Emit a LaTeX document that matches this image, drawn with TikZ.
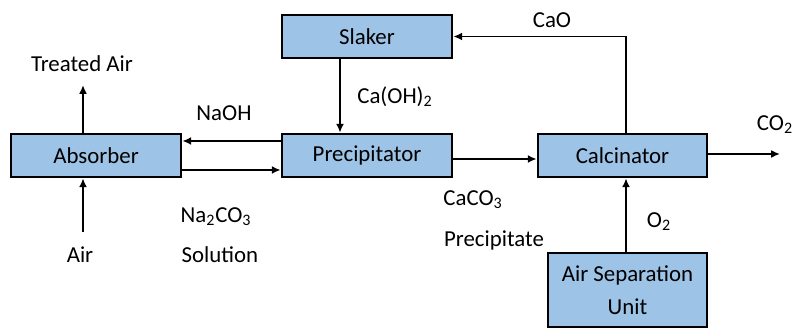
\documentclass[tikz,border=0pt]{standalone}
\usepackage{fontspec}
\setmainfont{Carlito}
\usetikzlibrary{arrows.meta}
\definecolor{boxblue}{HTML}{9DC3E6}
\tikzset{
  unit/.style={draw,line width=1.5pt,fill=boxblue,minimum width=3.4cm,minimum height=0.86cm,inner sep=0pt,font=\fontsize{13}{18.7}\selectfont},
  flow/.style={line width=1.1pt,-{Latex[length=5pt,width=4.5pt]}},
  lbl/.style={inner sep=0pt,font=\fontsize{13}{15}\selectfont}
}
\begin{document}
\begin{tikzpicture}
    \useasboundingbox (0,0) rectangle (15.9,6.56);
    %% process units
    \node[unit] (absorber) at (1.92,3.45) {Absorber};
    \node[unit] (precip) at (7.34,3.45) {Precipitator};
    \node[unit] (slaker) at (7.34,5.83) {Slaker};
    \node[unit,minimum width=3.38cm] (calc) at (12.45,3.45) {Calcinator};
    \node[unit,minimum width=3.18cm,minimum height=1.48cm,align=center] (asu) at (12.55,0.76) {Air Separation\\Unit};
    %% streams in and out
    \coordinate (airin) at (1.66,1.92);
    \coordinate (airout) at (1.66,4.86);
    \coordinate (co2out) at (15.6,3.48);
    \draw[flow] (airin) -- (airin |- absorber.south);
    \draw[flow] (airout |- absorber.north) -- (airout);
    \draw[flow] (calc.east |- co2out) -- (co2out);
    %% streams between units
    \draw[flow] (precip.west |- 0,3.74) -- (absorber.east |- 0,3.74);
    \draw[flow] (absorber.east |- 0,3.16) -- (precip.west |- 0,3.16);
    \draw[flow] (slaker.south -| 6.8,0) -- (precip.north -| 6.8,0);
    \draw[flow] (precip.east |- 0,3.38) -- (calc.west |- 0,3.38);
    \draw[flow] (calc.north -| 12.52,0) -- (12.52,5.83) -- (slaker.east);
    \draw[flow] (asu.north -| 12.52,0) -- (calc.south -| 12.52,0);
    %% labels
    \node[lbl] (treated) at (1.64,5.28) {Treated Air};
    \node[lbl] (air) at (1.6,1.46) {Air};
    \node[lbl] (naoh) at (4.48,4.30) {NaOH};
    \node[lbl] (naco) at (4.32,2.22) {Na\textsubscript{2}CO\textsubscript{3}};
    \node[lbl] (soln) at (4.40,1.46) {Solution};
    \node[lbl] (caoh) at (7.9,4.62) {Ca(OH)\textsubscript{2}};
    \node[lbl] (caco) at (9.46,2.56) {CaCO\textsubscript{3}};
    \node[lbl] (precipitate) at (9.88,1.76) {Precipitate};
    \node[lbl] (cao) at (11.04,6.16) {CaO};
    \node[lbl] (co2) at (15.5,4.06) {CO\textsubscript{2}};
    \node[lbl] (o2) at (13.18,2.12) {O\textsubscript{2}};
\end{tikzpicture}
\end{document}
